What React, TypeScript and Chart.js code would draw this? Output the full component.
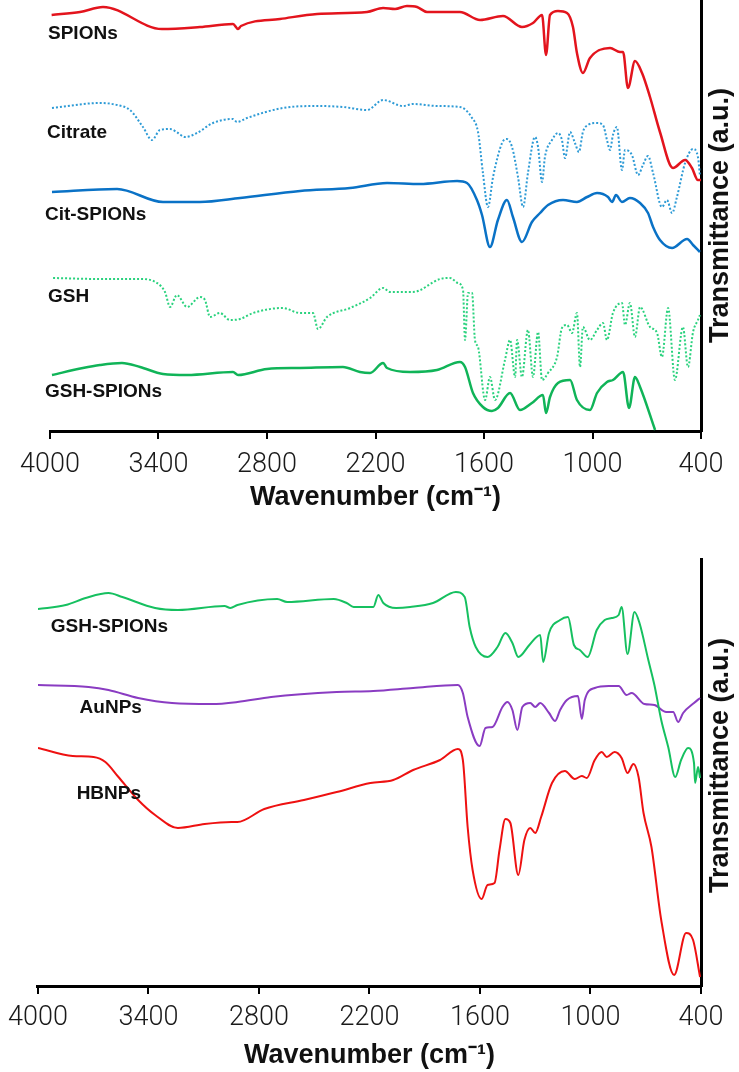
import React, { useEffect, useRef } from 'react';
import { Chart, registerables } from 'chart.js';

Chart.register(...registerables);

// ---------- shared axis content ----------
const X_TICKS = [4000, 3400, 2800, 2200, 1600, 1000, 400];
const X_TITLE = 'Wavenumber (cm⁻¹)';
const Y_TITLE = 'Transmittance (a.u.)';

// ---------- top panel series: [wavenumber, transmittance a.u.] ----------
const SPIONS: [number, number][] = [
  [3991, 416], [3834, 419], [3707, 424], [3381, 402], [3171, 404], [2988, 407], [2960, 402], [2944, 405],
  [2728, 412], [2523, 417], [2247, 419], [2158, 423], [2092, 422], [2026, 425], [1970, 424], [1915, 419],
  [1733, 419], [1622, 411], [1495, 415], [1390, 404], [1329, 408], [1279, 416], [1257, 376], [1235, 416],
  [1191, 420], [1141, 418], [1108, 404], [1086, 378], [1053, 358], [1014, 373], [903, 383], [848, 379],
  [831, 379], [804, 343], [765, 370], [726, 358], [682, 334], [627, 299], [555, 263], [488, 271],
  [450, 263], [417, 251], [400, 251],
];

const CITRATE: [number, number][] = [
  [3989, 323], [3724, 328], [3629, 326], [3558, 321], [3486, 304], [3436, 291], [3392, 301], [3336, 302],
  [3292, 298], [3253, 294], [3187, 298], [3099, 308], [2988, 312], [2966, 309], [2911, 313], [2712, 323],
  [2523, 325], [2380, 324], [2247, 321], [2158, 331], [2048, 325], [1993, 327], [1860, 325], [1733, 324],
  [1666, 313], [1633, 299], [1606, 258], [1578, 224], [1550, 254], [1500, 288], [1473, 292], [1445, 284],
  [1412, 254], [1384, 224], [1357, 258], [1318, 294], [1301, 284], [1279, 249], [1263, 274], [1224, 291],
  [1191, 298], [1169, 291], [1152, 273], [1124, 299], [1097, 288], [1075, 279], [1053, 299], [1025, 306],
  [975, 308], [942, 306], [920, 291], [903, 281], [887, 296], [865, 304], [837, 261], [820, 281],
  [782, 276], [748, 256], [721, 266], [693, 275], [665, 258], [616, 224], [588, 231], [560, 218],
  [533, 234], [488, 268], [444, 282], [417, 274], [406, 256],
];

const CIT_SPIONS: [number, number][] = [
  [3989, 239], [3629, 242], [3375, 229], [3171, 229], [2949, 233], [2617, 240], [2341, 243], [2136, 248],
  [1954, 247], [1749, 250], [1694, 248], [1639, 231], [1611, 216], [1567, 184], [1523, 211], [1473, 231],
  [1440, 214], [1390, 189], [1335, 209], [1290, 218], [1246, 226], [1163, 231], [1086, 229], [1030, 234],
  [975, 238], [914, 234], [892, 229], [870, 236], [837, 229], [793, 233], [737, 228], [693, 218],
  [665, 204], [627, 191], [560, 183], [477, 192], [444, 186], [406, 179],
];

const GSH: [number, number][] = [
  [3983, 153], [3724, 152], [3502, 152], [3408, 148], [3364, 139], [3336, 124], [3298, 136], [3242, 124],
  [3171, 134], [3143, 131], [3115, 114], [3060, 118], [3005, 111], [2949, 112], [2877, 118], [2712, 123],
  [2618, 118], [2546, 118], [2518, 102], [2468, 114], [2341, 123], [2230, 133], [2158, 143], [2120, 139],
  [1993, 139], [1843, 152], [1788, 153], [1744, 148], [1716, 141], [1705, 91], [1688, 138], [1666, 138],
  [1650, 91], [1633, 84], [1594, 31], [1567, 54], [1539, 31], [1484, 71], [1456, 91], [1428, 54],
  [1417, 91], [1390, 54], [1357, 101], [1329, 54], [1301, 99], [1279, 51], [1246, 58], [1196, 74],
  [1169, 103], [1141, 106], [1113, 98], [1086, 118], [1069, 64], [1053, 104], [1014, 91], [975, 101],
  [942, 108], [920, 91], [887, 118], [837, 128], [820, 106], [793, 128], [765, 94], [737, 124],
  [682, 104], [643, 98], [616, 74], [582, 123], [544, 51], [500, 104], [472, 64], [444, 99],
  [417, 111], [406, 116],
];

const GSH_SPIONS_TOP: [number, number][] = [
  [3989, 56], [3818, 63], [3724, 66], [3602, 68], [3502, 64], [3375, 57], [3242, 56], [2988, 59],
  [2960, 56], [2800, 62], [2618, 63], [2380, 64], [2286, 59], [2230, 58], [2158, 68], [2136, 63],
  [2009, 59], [1860, 61], [1733, 69], [1705, 64], [1661, 38], [1606, 24], [1556, 20], [1523, 23],
  [1456, 38], [1401, 21], [1335, 28], [1274, 36], [1257, 18], [1235, 34], [1191, 48], [1124, 51],
  [1086, 31], [1014, 21], [975, 38], [920, 49], [887, 51], [831, 59], [798, 23], [765, 54],
  [737, 44], [654, 1],
];

// ---------- bottom panel series ----------
const GSH_SPIONS_BOTTOM: [number, number][] = [
  [4000, 377], [3849, 381], [3741, 388], [3617, 393], [3542, 389], [3364, 378], [3240, 376], [2987, 380],
  [2955, 378], [2917, 381], [2701, 387], [2647, 384], [2394, 387], [2324, 383], [2286, 379], [2179, 379],
  [2152, 391], [2125, 383], [2055, 378], [1979, 379], [1855, 383], [1731, 394], [1683, 389], [1656, 359],
  [1623, 339], [1559, 329], [1505, 339], [1462, 353], [1424, 343], [1392, 329], [1332, 341], [1273, 351],
  [1257, 324], [1225, 353], [1165, 366], [1122, 369], [1090, 341], [1058, 336], [1015, 329], [966, 356],
  [923, 366], [885, 368], [847, 371], [831, 379], [799, 332], [761, 374], [734, 363], [686, 326],
  [653, 301], [616, 266], [578, 239], [540, 209], [508, 226], [470, 238], [438, 223], [432, 203],
  [416, 219], [405, 208],
];

const AUNPS: [number, number][] = [
  [4000, 301], [3725, 299], [3617, 296], [3456, 288], [3272, 283], [3057, 282], [2917, 284], [2734, 289],
  [2378, 294], [2179, 295], [1963, 298], [1720, 301], [1693, 293], [1667, 269], [1602, 240], [1570, 258],
  [1532, 259], [1478, 279], [1451, 284], [1424, 276], [1397, 256], [1370, 279], [1327, 283], [1300, 279],
  [1273, 283], [1225, 273], [1192, 265], [1165, 276], [1128, 286], [1068, 290], [1047, 267], [1031, 286],
  [977, 298], [901, 300], [847, 300], [804, 291], [777, 293], [707, 282], [653, 281], [589, 274],
  [551, 274], [524, 264], [497, 273], [438, 283], [405, 288],
];

const HBNPS: [number, number][] = [
  [4000, 238], [3811, 230], [3698, 229], [3634, 224], [3563, 209], [3456, 186], [3364, 171], [3240, 158],
  [3095, 162], [2949, 164], [2917, 164], [2771, 177], [2556, 186], [2378, 194], [2195, 203], [2071, 206],
  [1963, 216], [1817, 226], [1720, 237], [1693, 226], [1667, 159], [1640, 116], [1591, 87], [1559, 101],
  [1521, 103], [1494, 136], [1462, 167], [1435, 163], [1392, 111], [1359, 146], [1327, 158], [1300, 153],
  [1268, 169], [1209, 203], [1139, 215], [1085, 207], [1047, 210], [1020, 208], [977, 226], [939, 234],
  [912, 229], [869, 234], [831, 228], [799, 213], [767, 222], [739, 209], [712, 173], [669, 139],
  [616, 66], [546, 11], [481, 53], [443, 46], [405, 9],
];

// ---------- series label names ----------
const TOP_NAMES = ['SPIONs', 'Citrate', 'Cit-SPIONs', 'GSH', 'GSH-SPIONs'];
const BOTTOM_NAMES = ['GSH-SPIONs', 'AuNPs', 'HBNPs'];

// label anchors in data units (wavenumber, a.u.)
const TOP_LABEL_AT: [number, number][] = [[4011, 397], [4017, 298], [4028, 216], [4011, 134], [4028, 39]];
const BOTTOM_LABEL_AT: [number, number][] = [[3930, 359], [3774, 278], [3790, 192]];

const TICK_FONT = { family: 'Roboto, "Liberation Sans", Arial, sans-serif', size: 27, weight: '300' as any };
const TITLE_FONT = { family: '"Liberation Sans", Arial, sans-serif', size: 27, weight: 'bold' as any };
const LABEL_FONT = 'bold 19px "Liberation Sans", Arial, sans-serif';

type Series = { data: [number, number][]; color: string; width: number; dash?: number[] };

function makeAnnotPlugin(names: string[], at: [number, number][], titleShift: number) {
  return {
    id: 'annot',
    afterDatasetsDraw(chart: any) {
      const { ctx, scales, chartArea } = chart;
      ctx.save();
      ctx.fillStyle = '#111';
      ctx.font = LABEL_FONT;
      ctx.textAlign = 'left';
      ctx.textBaseline = 'middle';
      names.forEach((n, i) => {
        ctx.fillText(n, scales.x.getPixelForValue(at[i][0]), scales.y.getPixelForValue(at[i][1]));
      });
      // rotated y title on the right
      ctx.font = `bold ${TITLE_FONT.size}px ${TITLE_FONT.family}`;
      ctx.textAlign = 'center';
      ctx.textBaseline = 'middle';
      const cx = chartArea.right + 20;
      const cy = (chartArea.top + chartArea.bottom) / 2 + titleShift;
      ctx.translate(cx, cy);
      ctx.rotate(-Math.PI / 2);
      ctx.fillText(Y_TITLE, 0, 0);
      ctx.restore();
    },
  };
}

function makeConfig(series: Series[], yMax: number, xHeight: number, pad: any, tickPad: number, titlePadBottom: number, plugin: any) {
  return {
    type: 'line',
    data: {
      datasets: series.map((s) => ({
        data: s.data.map(([x, y]) => ({ x, y })),
        borderColor: s.color,
        borderWidth: s.width,
        borderDash: s.dash || [],
        pointRadius: 0,
        fill: false,
        cubicInterpolationMode: 'monotone',
      })),
    },
    options: {
      animation: false,
      responsive: false,
      maintainAspectRatio: false,
      layout: { padding: pad },
      plugins: { legend: { display: false }, tooltip: { enabled: false } },
      events: [],
      scales: {
        x: {
          type: 'linear',
          reverse: true,
          min: 400,
          max: 4000,
          afterBuildTicks: (s: any) => {
            s.ticks = X_TICKS.map((v) => ({ value: v }));
          },
          ticks: {
            font: TICK_FONT,
            color: '#1a1a1a',
            padding: tickPad,
            autoSkip: false,
            maxRotation: 0,
            callback: (v: any) => String(v),
          },
          grid: { display: true, drawOnChartArea: false, drawTicks: true, tickLength: 8, color: '#000', lineWidth: 2 },
          border: { display: true, color: '#000', width: 3 },
          title: {
            display: true,
            text: X_TITLE,
            font: TITLE_FONT,
            color: '#111',
            padding: { top: 0, bottom: titlePadBottom },
          },
          afterFit: (s: any) => {
            s.height = xHeight;
          },
        },
        y: {
          position: 'right',
          min: 0,
          max: yMax,
          ticks: { display: false },
          grid: { display: false, drawTicks: false },
          border: { display: true, color: '#000', width: 3 },
          afterFit: (s: any) => {
            s.width = 38;
          },
        },
      },
    },
    plugins: [plugin],
  };
}

function Panel({ top, height, config }: { top: number; height: number; config: any }) {
  const ref = useRef<HTMLCanvasElement | null>(null);
  useEffect(() => {
    if (!ref.current) return;
    const chart = new Chart(ref.current, config);
    return () => chart.destroy();
  }, []);
  return (
    <div style={{ position: 'absolute', left: 0, top, width: 739, height }}>
      <canvas ref={ref} width={739} height={height} style={{ display: 'block', width: 739, height }} />
    </div>
  );
}

export default function App() {
  const topSeries: Series[] = [
    { data: SPIONS, color: '#e3141d', width: 2.5 },
    { data: CITRATE, color: '#2e9bd6', width: 2, dash: [2, 2] },
    { data: CIT_SPIONS, color: '#0a72c6', width: 2.5 },
    { data: GSH, color: '#2ad27e', width: 2, dash: [2, 2] },
    { data: GSH_SPIONS_TOP, color: '#10b458', width: 2.5 },
  ];
  const bottomSeries: Series[] = [
    { data: GSH_SPIONS_BOTTOM, color: '#16c060', width: 2 },
    { data: AUNPS, color: '#8a3cc2', width: 2 },
    { data: HBNPS, color: '#ee1111', width: 2 },
  ];
  const topConfig = makeConfig(
    topSeries, 431, 89, { left: 50, top: 0, right: 0, bottom: 0 }, 10, 6,
    makeAnnotPlugin(TOP_NAMES, TOP_LABEL_AT, 0)
  );
  const bottomConfig = makeConfig(
    bottomSeries, 427, 86, { left: 32, top: 39, right: 0, bottom: 0 }, 8, 0,
    makeAnnotPlugin(BOTTOM_NAMES, BOTTOM_LABEL_AT, -7)
  );
  return (
    <div style={{ position: 'absolute', left: 0, top: 0, width: 739, height: 1072, background: '#fff' }}>
      <Panel top={0} height={520} config={topConfig} />
      <Panel top={520} height={552} config={bottomConfig} />
    </div>
  );
}
